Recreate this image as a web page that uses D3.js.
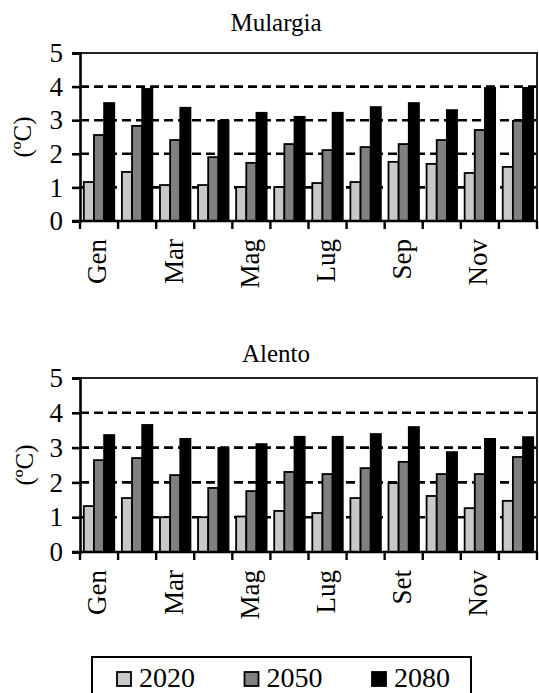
<!DOCTYPE html>
<html>
<head>
<meta charset="utf-8">
<script src="https://cdn.jsdelivr.net/npm/d3@7"></script>
<style>
html,body{margin:0;padding:0;background:#fff;}
svg{display:block;}
</style>
</head>
<body>
<svg id="chart" width="539" height="693"></svg>
<script>
const months = ["Gen","Feb","Mar","Apr","Mag","Giu","Lug","Ago","Sep","Ott","Nov","Dic"];
const monthLabelsTop = ["Gen","","Mar","","Mag","","Lug","","Sep","","Nov",""];
const monthLabelsBottom = ["Gen","","Mar","","Mag","","Lug","","Set","","Nov",""];
const seriesNames = ["2020","2050","2080"];
const seriesColors = ["#c8c8c8","#808080","#000000"];
const yTicks = [0,1,2,3,4,5];
const gridValues = [1,2,3,4];

const mulargia2020 = [1.16,1.46,1.07,1.07,1.01,1.01,1.13,1.16,1.76,1.70,1.43,1.61];
const mulargia2050 = [2.56,2.83,2.41,1.90,1.73,2.29,2.11,2.20,2.29,2.41,2.71,2.98];
const mulargia2080 = [3.51,3.93,3.37,2.98,3.22,3.10,3.22,3.39,3.51,3.30,3.96,3.96];

const alento2020 = [1.32,1.55,1.00,1.00,1.02,1.18,1.12,1.55,1.98,1.61,1.26,1.47];
const alento2050 = [2.64,2.70,2.21,1.84,1.75,2.30,2.24,2.41,2.59,2.24,2.24,2.73];
const alento2080 = [3.36,3.65,3.25,2.99,3.10,3.31,3.31,3.39,3.59,2.87,3.25,3.30];

const FONT = "'Liberation Serif', 'DejaVu Serif', 'Times New Roman', serif";
const svg = d3.select("#chart");
svg.append("rect").attr("width",539).attr("height",693).attr("fill","#fff");

function txt(sel){ return sel.style("font-family", FONT).attr("fill","#000"); }

function drawPanel(cfg){
  const g = svg.append("g");
  const x0 = d3.scaleBand().domain(months).range([cfg.left, cfg.right]).paddingInner(0.2).paddingOuter(0.1);
  const x1 = d3.scaleBand().domain(seriesNames).range([0, x0.bandwidth()]);
  const y = d3.scaleLinear().domain([0,5]).range([cfg.bottom, cfg.top]);
  const step = x0.step();

  g.selectAll(".grid").data(gridValues).join("line")
    .attr("x1", cfg.left).attr("x2", cfg.right)
    .attr("y1", d=>y(d)).attr("y2", d=>y(d))
    .attr("stroke","#000").attr("stroke-width",2.6).attr("stroke-dasharray","9,5");

  g.append("path")
    .attr("d", `M${cfg.left},${y(5)}H${cfg.right}V${y(0)}`)
    .attr("fill","none").attr("stroke","#222").attr("stroke-width",2);

  const data = cfg.series;
  months.forEach((m,i)=>{
    seriesNames.forEach((s,j)=>{
      g.append("rect")
        .attr("x", x0(m)+x1(s))
        .attr("y", y(data[j][i]))
        .attr("width", x1.bandwidth())
        .attr("height", y(0)-y(data[j][i]))
        .attr("fill", seriesColors[j])
        .attr("stroke","#000").attr("stroke-width",1.8);
    });
  });

  const yAxis = d3.axisLeft(y).tickValues(yTicks).tickSize(8).tickPadding(9).tickFormat(d3.format("d"));
  const ya = g.append("g").attr("transform",`translate(${cfg.left},0)`).call(yAxis);
  ya.attr("font-family", null).attr("font-size", null);
  ya.select(".domain").attr("stroke","#000").attr("stroke-width",2.6);
  ya.selectAll(".tick line").attr("stroke","#000").attr("stroke-width",2.6);
  txt(ya.selectAll(".tick text")).style("font-size","27px");

  g.append("line").attr("x1",cfg.left-8).attr("x2",cfg.right)
    .attr("y1",y(0)).attr("y2",y(0)).attr("stroke","#000").attr("stroke-width",2.6);
  const boundaries = months.map((m)=>x0(m) - step*x0.paddingInner()/2).concat([cfg.right]);
  g.selectAll(".xt").data(boundaries).join("line")
    .attr("x1",d=>d).attr("x2",d=>d)
    .attr("y1",y(0)).attr("y2",y(0)+8)
    .attr("stroke","#000").attr("stroke-width",2.4);

  months.forEach((m,i)=>{
    const lab = cfg.labels[i];
    if(!lab) return;
    const cx = x0(m) + x0.bandwidth()/2 - 2;
    txt(g.append("text"))
      .attr("transform",`translate(${cx},${y(0)+18}) rotate(-90)`)
      .attr("text-anchor","end").attr("dy","0.35em")
      .style("font-size","27px").text(lab);
  });

  txt(g.append("text"))
    .attr("transform",`translate(${cfg.ylabX},${(y(0)+y(5))/2}) rotate(-90)`)
    .attr("text-anchor","middle").attr("dy","0.35em")
    .style("font-size","25px").text("(ºC)");

  txt(g.append("text")).attr("x",276).attr("y",cfg.titleY)
    .attr("text-anchor","middle").style("font-size","25px").text(cfg.title);
}

drawPanel({left:80,right:537,top:53,bottom:221,title:"Mulargia",titleY:31,
  series:[mulargia2020,mulargia2050,mulargia2080],labels:monthLabelsTop,ylabX:22});
drawPanel({left:80,right:537,top:378,bottom:552,title:"Alento",titleY:362,
  series:[alento2020,alento2050,alento2080],labels:monthLabelsBottom,ylabX:24});

const leg = svg.append("g");
leg.append("rect").attr("x",92).attr("y",657).attr("width",379).attr("height",50)
  .attr("fill","#fff").attr("stroke","#000").attr("stroke-width",2);
const legX = d3.scalePoint().domain(seriesNames).range([117,372]);
seriesNames.forEach((s,i)=>{
  leg.append("rect").attr("x",legX(s)).attr("y",672).attr("width",14).attr("height",14)
    .attr("fill",seriesColors[i]).attr("stroke","#000").attr("stroke-width",1.8);
  txt(leg.append("text")).attr("x",legX(s)+22).attr("y",687)
    .style("font-size","28px").text(s);
});
</script>
</body>
</html>
